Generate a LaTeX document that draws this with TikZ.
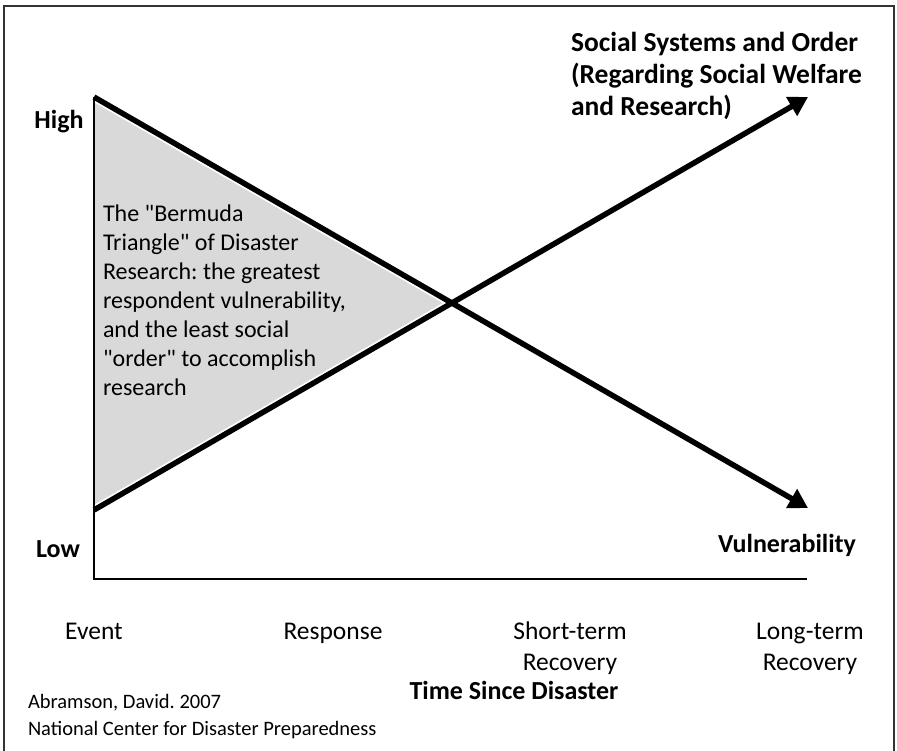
\documentclass[tikz,border=0pt]{standalone}
\usepackage{fontspec}
\setmainfont{Carlito}[Ligatures=TeXOff]
\usetikzlibrary{positioning, arrows.meta}
\definecolor{triangray}{HTML}{D9D9D9}
\definecolor{framegray}{HTML}{333333}

\begin{document}
\frenchspacing
\begin{tikzpicture}[
    x=1pt, y=-1pt,
    every node/.style={inner sep=0pt, outer sep=0pt},
    axislabel/.style={font=\fontsize{25.5}{31}\selectfont, align=center, anchor=base},
    boldlabel/.style={font=\fontsize{26}{31}\selectfont\bfseries},
    trend/.style={line width=5.5pt, -{Triangle[length=19pt, width=21pt]}},
    halo/.style={line width=9pt, white},
  ]
  \useasboundingbox (0,0) rectangle (897,751);

  % outer frame (open at the bottom)
  \draw[framegray, line width=2pt] (4,770) -- (4,6) -- (894,6) -- (894,770);

  % key points of the plot
  \coordinate (origin) at (94,579);
  \coordinate (ytop)   at (94,97);
  \coordinate (xend)   at (807,579);
  \coordinate (vulnstart) at (94,97);
  \coordinate (vulnend)   at (808,508);
  \coordinate (ordstart)  at (94,510);
  \coordinate (ordend)    at (808,97);
  \coordinate (cross)     at (452,303);

  % shaded region between the two trends
  \fill[triangray] (vulnstart) -- (cross) -- (ordstart) -- cycle;
  \draw[halo] (vulnstart) -- (vulnend);
  \draw[halo] (ordstart) -- (ordend);

  % axes
  \draw[line width=1.6pt] (ytop) -- (origin) -- (xend);

  % trend lines
  \draw[trend] (vulnstart) -- (vulnend);
  \draw[trend] (ordstart) -- (ordend);

  % labels
  \node[boldlabel] (high) at (59,122) {High};
  \node[boldlabel] (low)  at (58,549) {Low};
  \node[boldlabel] (vuln) at (787,545) {Vulnerability};
  \node[font=\fontsize{27.5}{32}\selectfont\bfseries, align=left, anchor=west]
    (order) at (571,76) {Social Systems and Order\\(Regarding Social Welfare\\and Research)};
  \node[font=\fontsize{24}{29}\selectfont, align=left, anchor=west]
    (bermuda) at (103,300) {The "Bermuda\\Triangle" of Disaster\\Research: the greatest\\respondent vulnerability,\\and the least social\\"order" to accomplish\\research};

  % time axis labels (base = last line)
  \node[axislabel] (event)    at (94,639)  {Event};
  \node[axislabel] (response) at (333,639) {Response};
  \node[axislabel] (shortrec) at (570,670) {Short-term\\Recovery};
  \node[axislabel] (longrec)  at (810,670) {Long-term\\Recovery};
  \node[boldlabel] (time)     at (514,690) {Time Since Disaster};

  \node[font=\fontsize{20.5}{27}\selectfont, align=left, anchor=west]
    (source) at (28,717) {Abramson, David. 2007\\National Center for Disaster Preparedness};
\end{tikzpicture}
\end{document}
